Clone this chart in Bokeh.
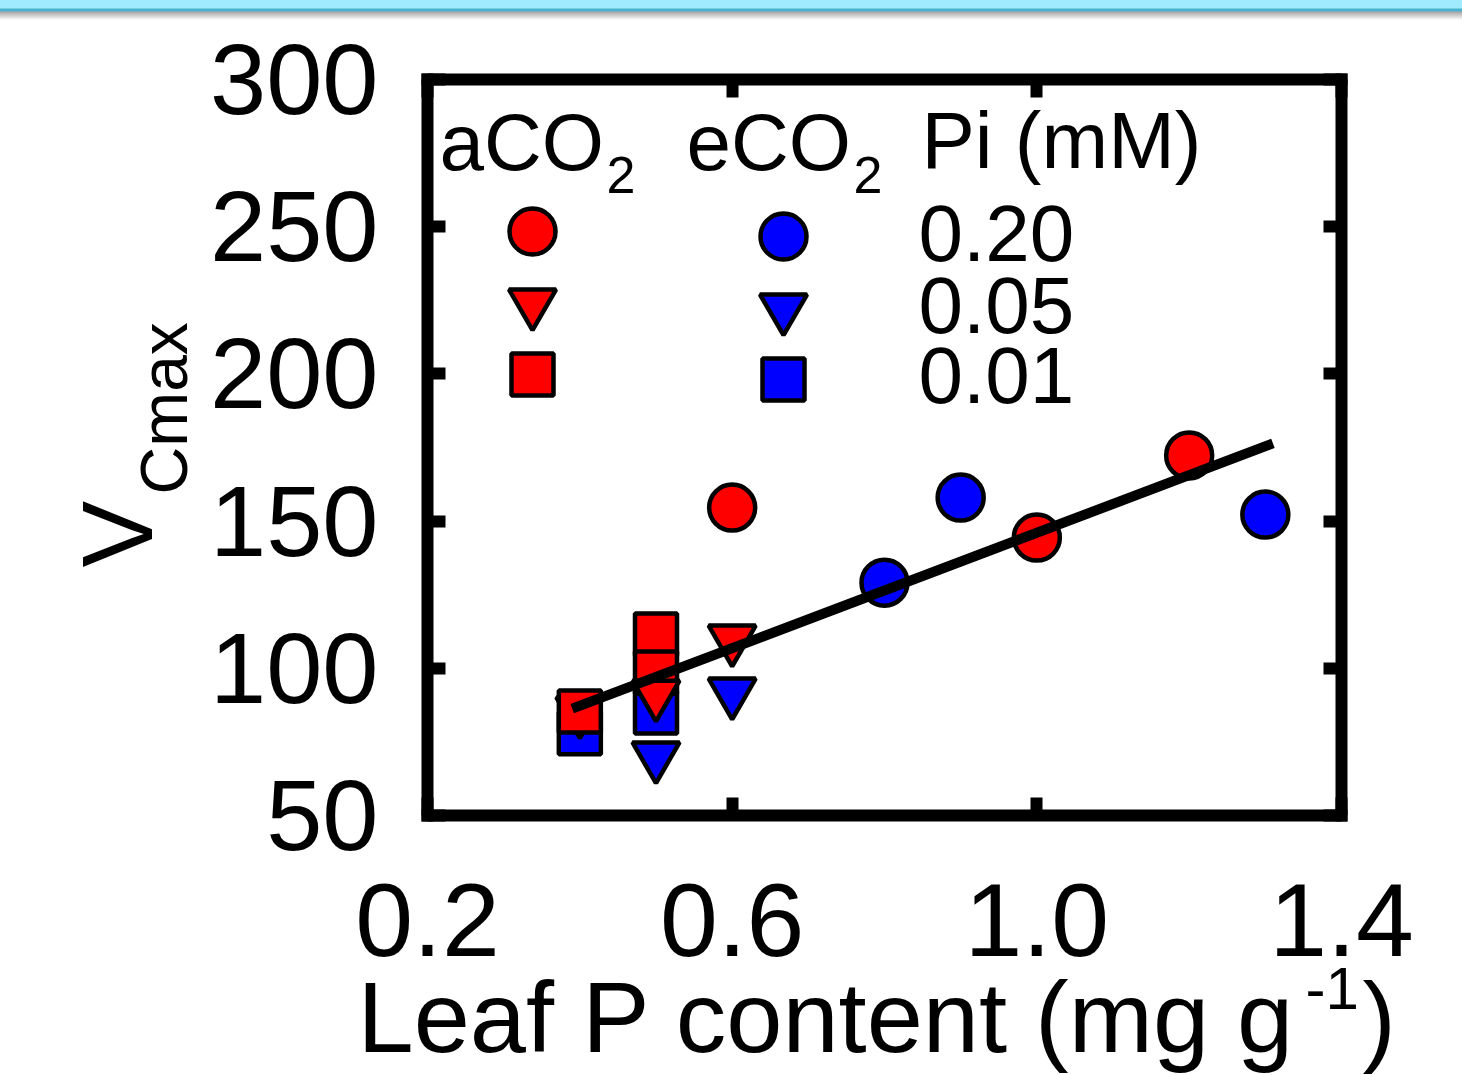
import math
from bokeh.plotting import figure
from bokeh.models import Range1d, LinearAxis, FixedTicker, Label, Div, PrintfTickFormatter
from bokeh.layouts import column
from bokeh.embed import file_html
from bokeh.resources import INLINE

# ---------------- data ----------------
x_ticks = [0.2, 0.6, 1.0, 1.4]
y_ticks = [50, 100, 150, 200, 250, 300]
pi_levels = ["0.20", "0.05", "0.01"]

# aCO2 (red)
a_circle_x = [0.6, 1.0, 1.2]          # Pi 0.20
a_circle_y = [154.6, 144.4, 172.3]
a_tri_x = [0.5, 0.6]                  # Pi 0.05
a_tri_y = [91.2, 109.9]
a_sq_x = [0.4, 0.5, 0.5]              # Pi 0.01
a_sq_y = [85.3, 111.5, 98.6]

# eCO2 (blue)
e_circle_x = [0.8, 0.9, 1.3]
e_circle_y = [129.1, 158.0, 152.2]
e_tri_x = [0.4, 0.5, 0.6]
e_tri_y = [85.5, 70.2, 91.9]
e_sq_x = [0.4, 0.5]
e_sq_y = [77.9, 85.0]

# regression line
fit_x = [0.39, 1.31]
fit_y = [86.3, 176.4]

# ---------------- layout ----------------
W, H = 1462, 1055
BAR_H = 20
FL, FR, FT, FB = 427, 1341, 59, 795  # plot-box edges in figure pixels
X0, X1, Y0, Y1 = 0.2, 1.4, 50, 300
KX = (X1 - X0) / (FR - FL)
KY = (Y1 - Y0) / (FB - FT)
X_START, X_END = X0 - FL * KX, X1 + (W - FR) * KX
Y_START, Y_END = Y0 - (H - FB) * KY, Y1 + FT * KY


def px2x(px):
    return X0 + (px - FL) * KX


def py2y(py):
    # py in page pixels (bar included)
    return Y0 + (FB - (py - BAR_H)) * KY


FONT = "Liberation Sans"
RED = "#ff0000"
BLUE = "#0000ff"
LW = 4.5
S_CIRCLE, S_TRI, S_SQ = 46, 47, 42

p = figure(width=W, height=H, x_range=Range1d(X_START, X_END), y_range=Range1d(Y_START, Y_END),
           output_backend="svg", toolbar_location=None,
           min_border_left=0, min_border_right=0, min_border_top=0, min_border_bottom=0)
p.xgrid.visible = False
p.ygrid.visible = False
p.outline_line_color = None
p.background_fill_color = "white"
p.border_fill_color = "white"


def style_axis(ax, labels=True, size="96px", standoff=50):
    ax.axis_line_color = "black"
    ax.axis_line_width = 12
    ax.axis_line_cap = "square"
    ax.major_tick_in = 18
    ax.major_tick_out = 0
    ax.major_tick_line_width = 12
    ax.major_tick_line_color = "black"
    ax.minor_tick_line_color = None
    ax.major_label_text_font = FONT
    ax.major_label_text_font_size = size
    ax.major_label_standoff = standoff
    ax.major_label_text_color = "black" if labels else None


xa = p.xaxis[0]
xa.ticker = FixedTicker(ticks=x_ticks)
xa.formatter = PrintfTickFormatter(format="%.1f")
xa.fixed_location = Y0
xa.bounds = (X0, X1)
style_axis(xa, True, "104px", 68)

ya = p.yaxis[0]
ya.ticker = FixedTicker(ticks=y_ticks)
ya.fixed_location = X0
ya.bounds = (Y0, Y1)
style_axis(ya, True, "101px", 49)

top_ax = LinearAxis(ticker=FixedTicker(ticks=x_ticks), fixed_location=Y1, bounds=(X0, X1))
style_axis(top_ax, False)
p.add_layout(top_ax, "above")
right_ax = LinearAxis(ticker=FixedTicker(ticks=y_ticks), fixed_location=X1, bounds=(Y0, Y1))
style_axis(right_ax, False)
p.add_layout(right_ax, "right")

mk = dict(line_color="black", line_width=LW)
# drawing order mirrors the overlaps in the reference
p.scatter(e_sq_x, e_sq_y, marker="square", size=S_SQ, fill_color=BLUE, **mk)
p.scatter(e_tri_x, e_tri_y, marker="inverted_triangle", size=S_TRI, fill_color=BLUE, **mk)
p.scatter(a_sq_x, a_sq_y, marker="square", size=S_SQ, fill_color=RED, **mk)
p.scatter(a_tri_x, a_tri_y, marker="inverted_triangle", size=S_TRI, fill_color=RED, **mk)
p.scatter(a_circle_x, a_circle_y, marker="circle", size=S_CIRCLE, fill_color=RED, **mk)
p.scatter(e_circle_x, e_circle_y, marker="circle", size=S_CIRCLE, fill_color=BLUE, **mk)
p.line(fit_x, fit_y, line_color="black", line_width=10)

# ---------------- custom legend ----------------
markers = ["circle", "inverted_triangle", "square"]
sizes = [S_CIRCLE, S_TRI, S_SQ]
red_rows_px = [231, 302.6, 374]
blue_rows_px = [236, 307.6, 379]
for m, s, ry, by in zip(markers, sizes, red_rows_px, blue_rows_px):
    p.scatter([px2x(532)], [py2y(ry)], marker=m, size=s, fill_color=RED, **mk)
    p.scatter([px2x(783)], [py2y(by)], marker=m, size=s, fill_color=BLUE, **mk)

BASE_SHIFT = 0.37  # empirical offset between requested and drawn baseline (em)


def lab(text, px, py, size, rotated=False):
    if rotated:
        x, y, ang = px2x(px - BASE_SHIFT * size), py2y(py), math.pi / 2
    else:
        x, y, ang = px2x(px), py2y(py - BASE_SHIFT * size), 0.0
    p.add_layout(Label(x=x, y=y, text=text, text_font=FONT,
                       text_font_size=f"{size}px", text_color="black", angle=ang,
                       text_align="left", text_baseline="alphabetic"))


lab("aCO", 439, 172, 80)
lab("2", 606, 194, 52)
lab("eCO", 686, 172, 80)
lab("2", 853, 194, 52)
lab("Pi (mM)", 921, 170, 80)
for t, by in zip(pi_levels, [263, 335, 405]):
    lab(t, 918, by, 80)

# axis titles
lab("Leaf P content (mg g", 357, 1054, 101)
lab("-1", 1305, 1010, 60)
lab(")", 1362, 1054, 100)
lab("V", 153, 567, 100, rotated=True)
lab("Cmax", 188, 494, 66, rotated=True)

bar = Div(text="", width=W, height=BAR_H, margin=0,
          styles={"background": "linear-gradient(to bottom, #a0ebff 0px, #a0ebff 8px, "
                                "#4ab3cf 9px, #4ab3cf 11px, #a8a8a8 12px, #ffffff 20px)"})
layout = column(bar, p, spacing=0)
open("out.html", "w").write(file_html(layout, INLINE))
